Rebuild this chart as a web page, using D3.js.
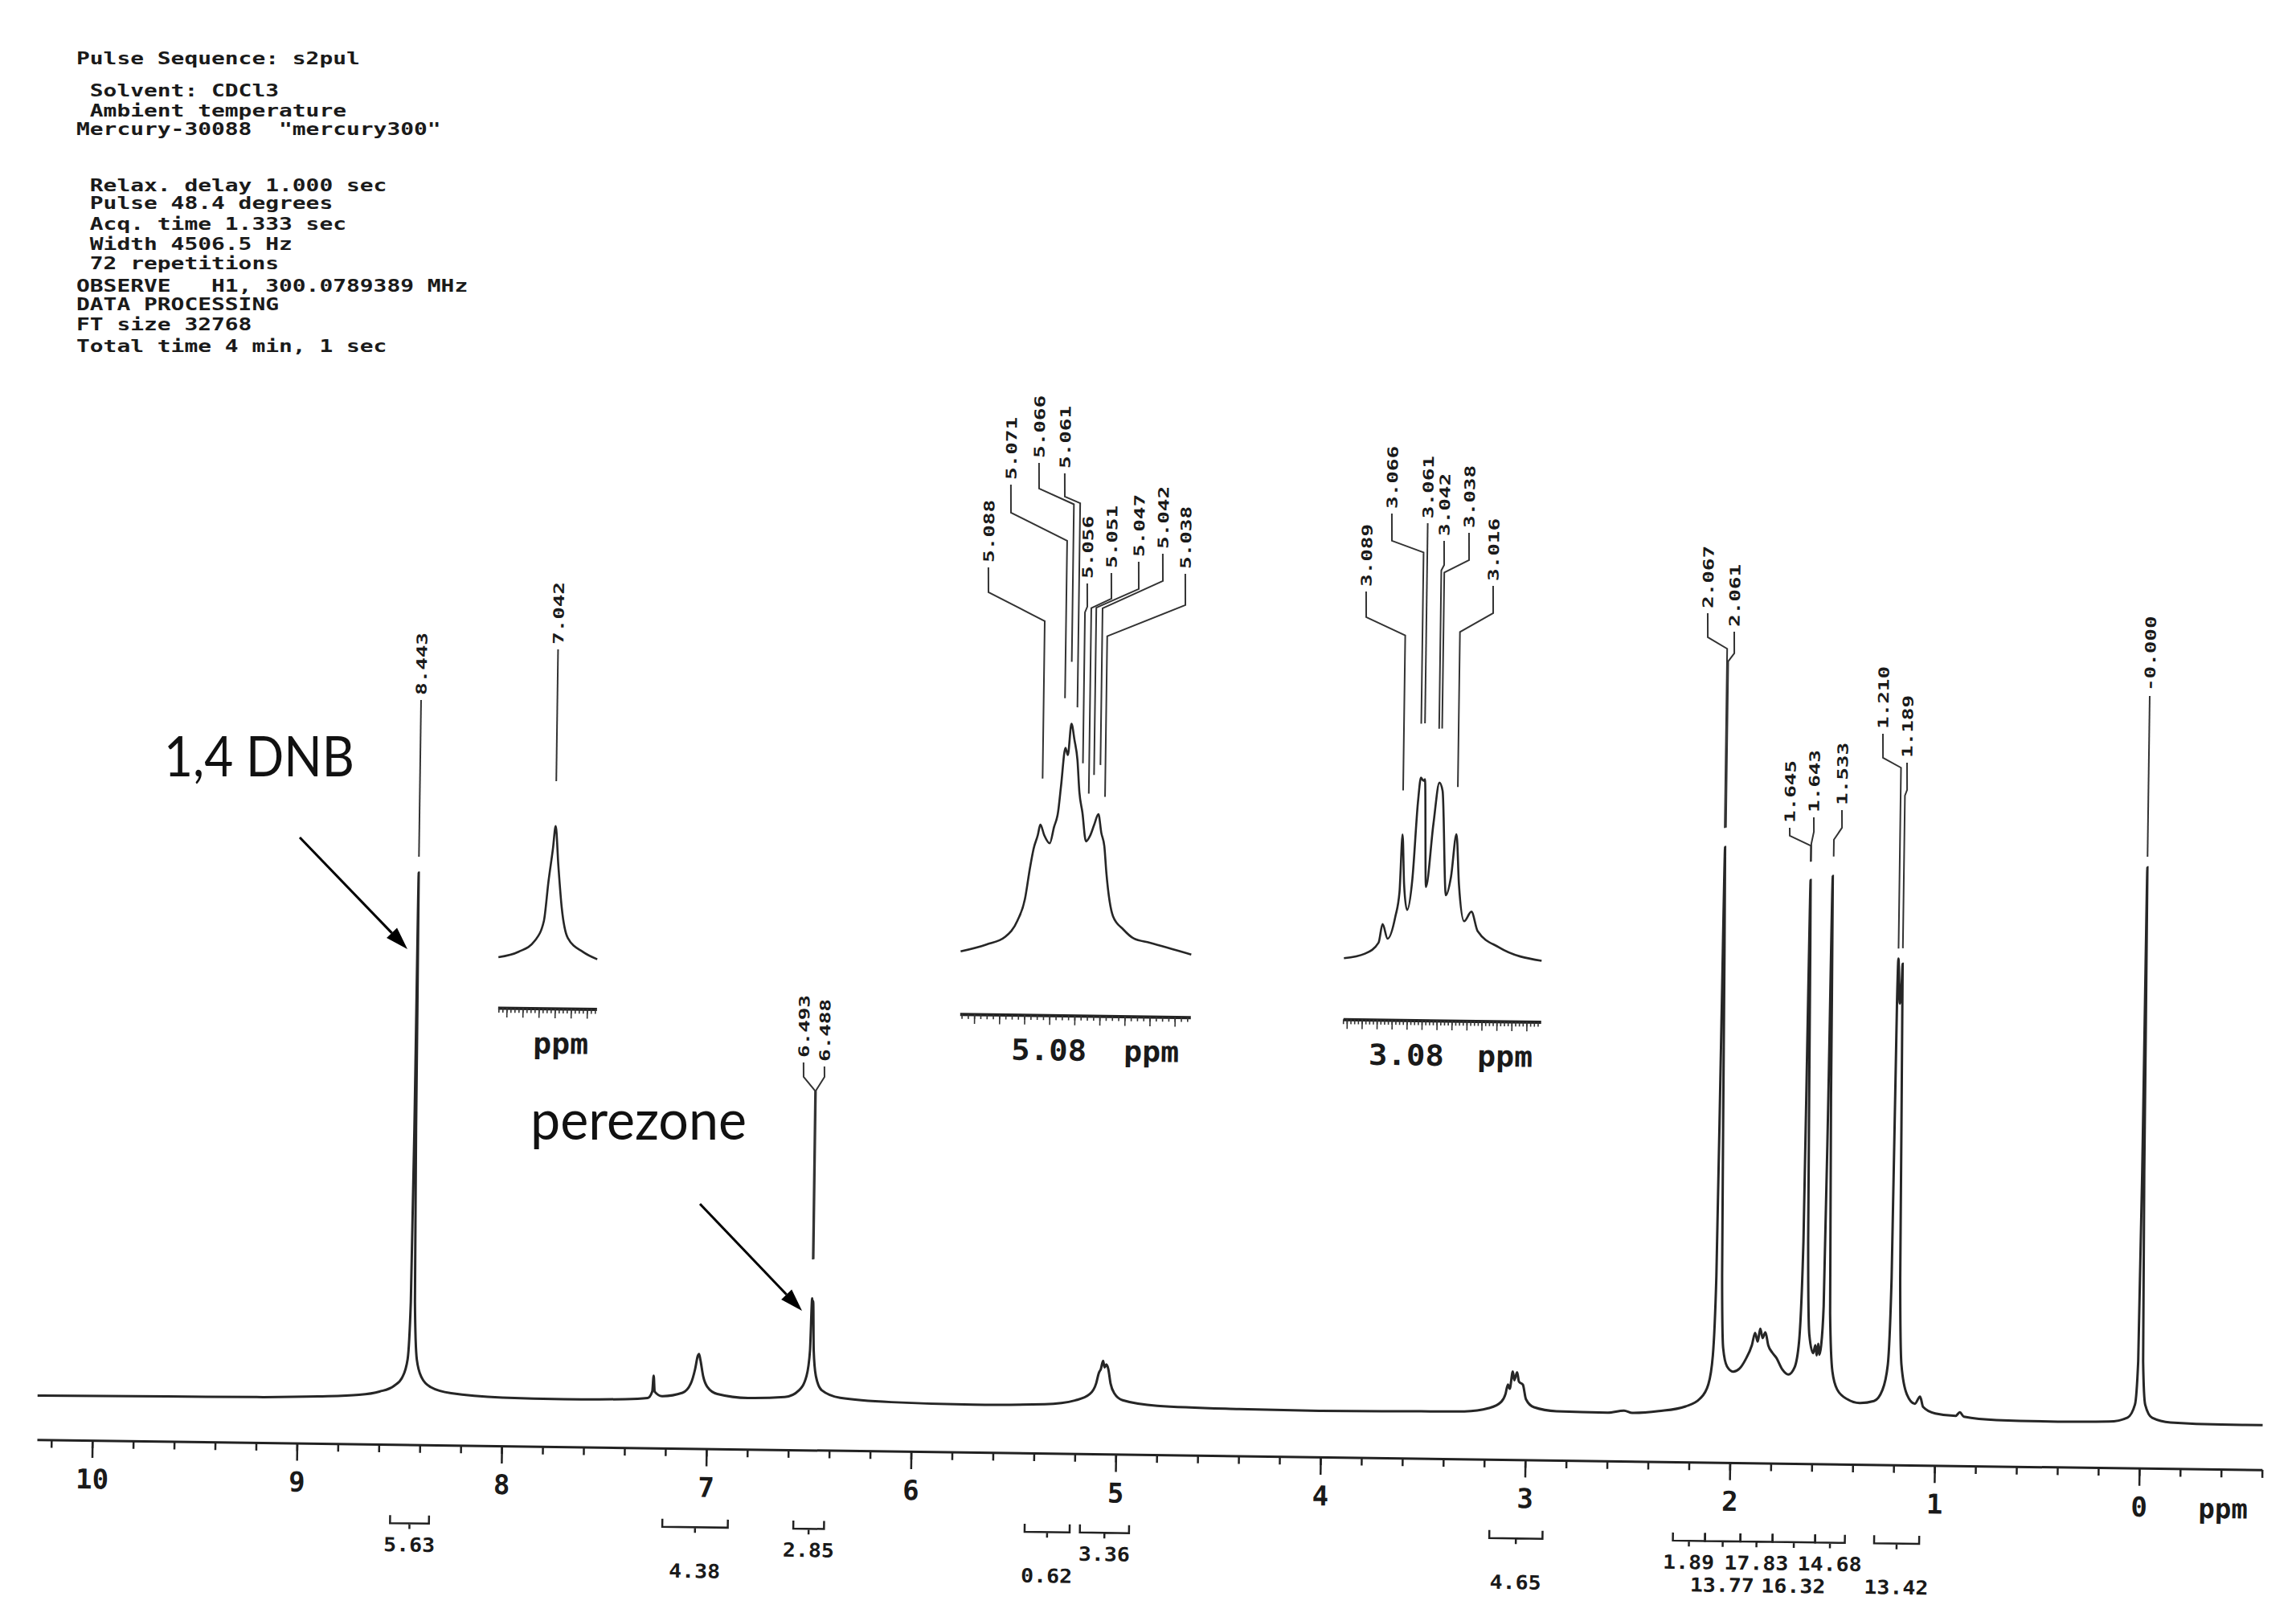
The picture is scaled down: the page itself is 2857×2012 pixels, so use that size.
<!DOCTYPE html>
<html>
<head>
<meta charset="utf-8">
<script src="https://cdn.jsdelivr.net/npm/d3@7"></script>
<style>
  body { margin: 0; background: #fff; }
  svg { display: block; }
  .mono { font-family: "DejaVu Sans Mono", monospace; font-weight: bold; fill: #1a1a1a; }
</style>
</head>
<body>
<svg width="2857" height="2012"></svg>
<script>
// acquisition header, as printed
const headerLines = [
  'Pulse Sequence: s2pul',
  ' Solvent: CDCl3',
  ' Ambient temperature',
  'Mercury-30088  "mercury300"',
  ' Relax. delay 1.000 sec',
  ' Pulse 48.4 degrees',
  ' Acq. time 1.333 sec',
  ' Width 4506.5 Hz',
  ' 72 repetitions',
  'OBSERVE   H1, 300.0789389 MHz',
  'DATA PROCESSING',
  'FT size 32768',
  'Total time 4 min, 1 sec'
]

// main trace [ppm, intensity %]
const mainTrace = [
  [10.27,0.3],[9.8,0.4],[9.2,0.5],[8.9,0.7],[8.7,1.0],[8.6,1.5],[8.53,2.3],[8.49,3.5],[8.465,6],[8.453,14],[8.447,38],
  [8.443,73.3],[8.439,38],[8.433,14],[8.42,6],[8.395,3.5],[8.35,2.2],[8.25,1.4],[8.0,0.9],[7.7,0.8],[7.4,0.9],[7.29,1.1],
  [7.268,2],[7.262,4.2],[7.256,2],[7.22,1.4],[7.12,1.9],[7.08,3.2],[7.06,5.2],[7.048,7],[7.042,7.3],[7.035,6.5],[7.02,4.2],
  [7.0,2.8],[6.95,1.8],[6.8,1.3],[6.62,1.5],[6.55,2.5],[6.515,4.5],[6.5,8],[6.493,15.2],[6.49,13.5],[6.488,14.8],[6.482,8],
  [6.47,4.5],[6.44,2.5],[6.35,1.5],[6.1,1.0],[5.7,0.8],[5.35,1.0],[5.2,1.6],[5.13,2.5],[5.1,4],[5.088,5.4],[5.078,6],
  [5.068,7.1],[5.06,6.2],[5.052,6.6],[5.042,6],[5.03,4],[5.01,2.6],[4.97,1.7],[4.8,1.0],[4.4,0.7],[4.0,0.6],[3.6,0.7],
  [3.3,0.8],[3.18,1.3],[3.12,2.2],[3.1,3.3],[3.089,4.6],[3.08,4.0],[3.066,6.4],[3.058,5.2],[3.045,6.3],[3.035,5],
  [3.016,4.6],[3.0,2.6],[2.96,1.5],[2.85,1.0],[2.6,0.9],[2.52,1.2],[2.48,0.9],[2.35,1.2],[2.22,1.9],[2.15,3],[2.11,5],
  [2.09,9],[2.078,20],[2.07,55],[2.064,79.3],[2.058,55],[2.05,20],[2.04,10],[2.02,7.5],[1.99,6.8],[1.96,7.2],[1.93,8.5],
  [1.9,10.5],[1.885,12.2],[1.872,11],[1.86,12.8],[1.848,11.5],[1.835,12.3],[1.82,10.5],[1.8,9.5],[1.78,8.8],[1.75,7.2],
  [1.72,6.5],[1.69,7.5],[1.67,11],[1.655,25],[1.648,60],[1.644,74.9],[1.64,60],[1.632,25],[1.62,12],[1.6,9.5],[1.59,10.6],
  [1.583,9.2],[1.576,10.8],[1.57,9.3],[1.562,10.5],[1.552,16],[1.543,45],[1.536,75.5],[1.53,45],[1.52,15],[1.505,7],
  [1.48,4.5],[1.43,3.2],[1.37,2.7],[1.3,3.0],[1.26,4.5],[1.235,8],[1.222,20],[1.214,58],[1.21,64.2],[1.2,58],[1.192,61],
  [1.189,63.5],[1.18,20],[1.168,8],[1.14,4],[1.1,2.7],[1.075,3.7],[1.06,2.3],[1.0,1.4],[0.9,1.1],[0.88,1.6],[0.86,1.0],
  [0.7,0.6],[0.4,0.5],[0.15,0.6],[0.06,1.2],[0.025,3],[0.012,9],[0.005,35],[0.0,77.3],[-0.005,35],[-0.012,9],[-0.025,3],
  [-0.06,1.2],[-0.15,0.6],[-0.4,0.4],[-0.6,0.4]
]

// expansions [ppm, height]
const inset7Trace = [[7.111,1],[7.086,8],[7.066,22],[7.055,47],[7.05,96],[7.045,137],[7.042,165],[7.038,116],[7.033,63],[7.025,26],[7.006,9],[6.988,0]]
const inset5Trace = [
  [5.1515,0],[5.131,9],[5.116,19],[5.1066,39],[5.1008,66],[5.097,106],[5.0944,129],[5.0912,146],[5.0893,159],[5.0861,146],
  [5.0816,136],[5.0784,156],[5.0752,176],[5.0733,206],[5.0701,255],[5.0681,246],[5.0656,285],[5.063,265],[5.0604,240],
  [5.0585,200],[5.0559,175],[5.0527,139],[5.0495,146],[5.0463,160],[5.0431,173],[5.0406,150],[5.038,133],[5.0361,100],
  [5.0303,46],[5.022,30],[5.0136,19],[5.0008,14],[4.9675,0]
]
const inset3Trace = [
  [3.165,0],[3.137,6],[3.119,20],[3.114,43],[3.107,25],[3.097,53],[3.092,83],[3.089,155],[3.086,93],[3.0815,61],[3.075,100],
  [3.069,195],[3.0654,226],[3.062,222],[3.06,224],[3.0568,90],[3.048,168],[3.0407,220],[3.0363,210],[3.03,80],[3.0235,103],
  [3.017,156],[3.0127,93],[3.0052,48],[2.9956,60],[2.987,36],[2.958,16],[2.901,0]
]

const peakLabels = ['8.443','7.042','6.493','6.488','5.088','5.071','5.066','5.061','5.056','5.051','5.047','5.042','5.038',
  '3.089','3.066','3.061','3.042','3.038','3.016','2.067','2.061','1.645','1.643','1.533','1.210','1.189','-0.000']
const peakSource = ['main','i7','main','main','i5','i5','i5','i5','i5','i5','i5','i5','i5',
  'i3','i3','i3','i3','i3','i3','main','main','main','main','main','main','main','main']

const integralRanges = [[8.54,8.35],[7.21,6.89],[6.57,6.42],[5.44,5.22],[5.17,4.93],[3.17,2.91],
  [2.273,2.116],[2.116,1.943],[1.943,1.786],[1.786,1.578],[1.578,1.433],[1.29,1.07]]
const integralValues = ['5.63','4.38','2.85','0.62','3.36','4.65','1.89','13.77','17.83','16.32','14.68','13.42']

const majorTicks = d3.range(0, 11)
const minorTicks = d3.range(-3, 52).map(i => +(i * 0.2).toFixed(1))

// ---- layout ----
const ANGLE = 0.78, PIV = [1430, 1800]
const S = Math.sin(ANGLE * Math.PI / 180)
// page coords of the scan -> unrotated chart coords
const unrot = (px, py) => [px + (py - PIV[1]) * S, py - (px - PIV[0]) * S]

const headerY = [80,120,145,168,238,260,286,311,335,363,386,411,438]

// label column x, text bottom, bend1, bend2, leader end (page coords)
const labelLayout = [
  [523,865,900,900,1066],[692,802,815,815,972],[1000,1316,1340,1357,1567],[1026,1321,1340,1357,1567],
  [1230,700,737,772,968],[1258,597,638,672,868],[1293,570,608,627,823],[1325,583,618,626,880],
  [1353,720,755,762,950],[1383,707,745,757,988],[1417,693,733,757,965],[1447,683,723,758,953],[1475,708,753,793,993],
  [1700,730,768,790,983],[1732,633,673,687,900],[1765,645,690,690,900],[1797,667,703,710,907],[1828,657,697,713,907],
  [1858,723,763,787,980],[2125,757,793,807,1030],[2158,780,813,823,1030],[2227,1024,1040,1052,1072],
  [2257,1011,1035,1050,1072],[2292,1002,1030,1045,1066],[2343,907,943,955,1180],[2373,943,983,990,1180],
  [2672,860,900,900,1066]
]

const svg = d3.select('svg')
svg.append('rect').attr('width', 2857).attr('height', 2012).attr('fill', '#fff')

svg.append('g').selectAll('text')
    .data(headerLines)
  .join('text')
    .attr('class', 'mono')
    .attr('x', 95)
    .attr('y', (d, i) => headerY[i])
    .attr('font-size', 21)
    .attr('xml:space', 'preserve')
    .style('white-space', 'pre')
    .attr('textLength', d => d.length * 16.8)
    .attr('lengthAdjust', 'spacingAndGlyphs')
    .text(d => d)

const g = svg.append('g').attr('transform', `rotate(${ANGLE},${PIV[0]},${PIV[1]})`)

const x = d3.scaleLinear().domain([10.27, -0.6]).range([46, 2815])
const y = d3.scaleLinear().domain([0, 100]).range([1758, 858])
const AXIS_Y = 1810

// main axis
const axisG = g.append('g').attr('transform', `translate(0,${AXIS_Y})`)
axisG.call(d3.axisBottom(x).tickValues(minorTicks).tickSize(10).tickSizeOuter(0).tickFormat(''))
const majG = axisG.append('g').call(d3.axisBottom(x).tickValues(majorTicks).tickSize(22).tickPadding(14).tickSizeOuter(0).tickFormat(d => d))
majG.select('.domain').remove()
axisG.select('.domain').attr('stroke', '#222').attr('stroke-width', 3)
axisG.selectAll('.tick line').attr('stroke', '#222').attr('stroke-width', 2.5)
majG.selectAll('text').attr('class', 'mono').attr('font-size', 34).attr('fill', '#1a1a1a')
axisG.append('text').attr('class', 'mono').attr('x', 2767).attr('y', 61)
    .attr('text-anchor', 'middle').attr('font-size', 34).text('ppm')

const line = d3.line()
    .x(d => x(d[0]))
    .y(d => y(d[1]))
    .curve(d3.curveMonotoneX)

g.append('path').datum(mainTrace)
    .attr('d', line)
    .attr('fill', 'none').attr('stroke', '#262626').attr('stroke-width', 3)

// expansions
const insets = {
  i7: { data: inset7Trace, dom: [7.111, 6.988], range: [612, 735], base: 1203, num: null, ppmX: 691 },
  i5: { data: inset5Trace, dom: [5.1515, 4.9675], range: [1187, 1474], base: 1187, num: 5.08, ppmX: 1426 },
  i3: { data: inset3Trace, dom: [3.165, 2.901], range: [1664, 1910], base: 1189, num: 3.08, ppmX: 1866 }
}
const INSET_AXIS_Y = 1265

function tickRange(lo, hi, step) {
  return d3.range(Math.ceil(lo / step - 1e-6), Math.floor(hi / step + 1e-6) + 1).map(i => +(i * step).toFixed(4))
}

Object.values(insets).forEach(ins => {
  ins.x = d3.scaleLinear().domain(ins.dom).range(ins.range)
  const lineI = d3.line()
      .x(d => ins.x(d[0]))
      .y(d => ins.base - d[1])
      .curve(d3.curveMonotoneX)
  g.append('path').datum(ins.data)
      .attr('d', lineI)
      .attr('fill', 'none').attr('stroke', '#262626').attr('stroke-width', 2.6)

  const lo = ins.dom[1], hi = ins.dom[0]
  const ax = g.append('g').attr('transform', `translate(0,${INSET_AXIS_Y})`)
  ax.call(d3.axisBottom(ins.x).tickValues(tickRange(lo, hi, 0.005)).tickSize(6).tickSizeOuter(0).tickFormat(''))
  const ax2 = ax.append('g').call(d3.axisBottom(ins.x).tickValues(tickRange(lo, hi, 0.02)).tickSize(12).tickSizeOuter(0).tickFormat(''))
  ax2.select('.domain').remove()
  ax.select('.domain').attr('stroke', '#222').attr('stroke-width', 4)
  ax.selectAll('.tick line').attr('stroke', '#333').attr('stroke-width', 1.6)

  if (ins.num !== null) {
    g.append('text').attr('class', 'mono')
        .attr('x', ins.x(ins.num)).attr('y', 1321)
        .attr('text-anchor', 'middle').attr('font-size', 36)
        .attr('textLength', 94).attr('lengthAdjust', 'spacingAndGlyphs')
        .text(ins.num.toFixed(2))
  }
  g.append('text').attr('class', 'mono')
      .attr('x', ins.ppmX).attr('y', 1321)
      .attr('text-anchor', 'middle').attr('font-size', 36)
      .attr('textLength', 69).attr('lengthAdjust', 'spacingAndGlyphs')
      .text('ppm')
})

// peak labels with leader lines
const leaderLine = d3.line()
peakLabels.forEach((t, i) => {
  const src = peakSource[i]
  const ppm = parseFloat(t)
  const px = src === 'main' ? x(ppm) : insets[src].x(ppm)
  const [lx, ty, b1, b2, end] = labelLayout[i]
  let pts, tx, tyU
  if (b1 === b2) {
    tyU = unrot(lx, ty)[1]
    tx = px
    pts = [[px, tyU + 6], [px, unrot(lx, end)[1]]]
  } else {
    const p0 = unrot(lx, ty)
    tx = p0[0]
    tyU = p0[1]
    const p1 = unrot(lx, b1)
    pts = [[p0[0], p0[1] + 6], p1, [px, unrot(lx, b2)[1]], [px, unrot(lx, end)[1]]]
  }
  g.append('path')
      .attr('d', leaderLine(pts))
      .attr('fill', 'none').attr('stroke', '#333').attr('stroke-width', 2)
  g.append('text').attr('class', 'mono')
      .attr('transform', `translate(${tx + 6.5},${tyU}) rotate(-90)`)
      .attr('font-size', 18)
      .attr('textLength', t.length * 15.6)
      .attr('lengthAdjust', 'spacingAndGlyphs')
      .text(t)
})

// integrals
const BRACKET_Y = 1908
integralRanges.forEach((r, i) => {
  const x0 = x(r[0]), x1 = x(r[1]), xm = (x0 + x1) / 2
  g.append('path')
      .attr('d', `M${x0},${BRACKET_Y - 10}L${x0},${BRACKET_Y}L${x1},${BRACKET_Y}L${x1},${BRACKET_Y - 10}M${xm},${BRACKET_Y}L${xm},${BRACKET_Y + 7}`)
      .attr('fill', 'none').attr('stroke', '#222').attr('stroke-width', 2.5)
  g.append('text').attr('class', 'mono')
      .attr('x', xm).attr('y', i % 2 === 0 ? 1943 : 1971)
      .attr('text-anchor', 'middle').attr('font-size', 24)
      .attr('textLength', integralValues[i].length * 16)
      .attr('lengthAdjust', 'spacingAndGlyphs')
      .text(integralValues[i])
})

// added annotations
function arrow(x1, y1, x2, y2) {
  const a = Math.atan2(y2 - y1, x2 - x1), L = 28, W = 9
  const bx = x2 - L * Math.cos(a), by = y2 - L * Math.sin(a)
  svg.append('line').attr('x1', x1).attr('y1', y1).attr('x2', bx).attr('y2', by)
      .attr('stroke', '#000').attr('stroke-width', 3)
  svg.append('path')
      .attr('d', `M${x2},${y2}L${bx + W * Math.sin(a)},${by - W * Math.cos(a)}L${bx - W * Math.sin(a)},${by + W * Math.cos(a)}Z`)
      .attr('fill', '#000')
}
svg.append('text').attr('x', 204).attr('y', 966)
    .style('font-family', 'Lato, "Open Sans", sans-serif').attr('font-size', 70).attr('fill', '#111')
    .attr('textLength', 237).attr('lengthAdjust', 'spacingAndGlyphs')
    .text('1,4 DNB')
arrow(373, 1042, 507, 1181)
svg.append('text').attr('x', 660).attr('y', 1418)
    .style('font-family', 'Lato, "Open Sans", sans-serif').attr('font-size', 70).attr('fill', '#111')
    .attr('textLength', 269).attr('lengthAdjust', 'spacingAndGlyphs')
    .text('perezone')
arrow(871, 1498, 998, 1631)
</script>
</body>
</html>
